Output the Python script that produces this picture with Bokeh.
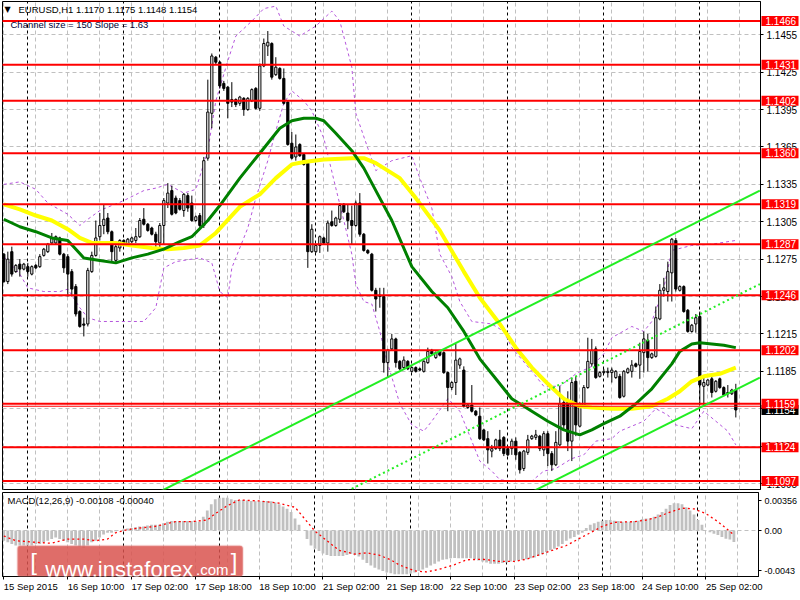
from bokeh.plotting import figure
from bokeh.models import (ColumnDataSource, FixedTicker, Grid, Label, BoxAnnotation,
                          CustomJSTickFormatter, PrintfTickFormatter, Range1d)
from bokeh.layouts import column, row
from bokeh.embed import file_html
from bokeh.resources import INLINE
from bokeh.core.properties import value

FONT = "Liberation Sans"
FS = "10px"

# ---------------- data (EURUSD H1, one value per bar) ----------------
opens = [1.1279, 1.1257, 1.1281, 1.1265, 1.1271, 1.1267, 1.1269, 1.1263, 1.1270, 1.1269,
         1.1278, 1.1281, 1.1288, 1.1288, 1.1292, 1.1279, 1.1277, 1.1265, 1.1253, 1.1233,
         1.1223, 1.1223, 1.1265, 1.1278, 1.1293, 1.1302, 1.1308, 1.1297, 1.1274, 1.1284,
         1.1290, 1.1287, 1.1289, 1.1290, 1.1293, 1.1307, 1.1303, 1.1300, 1.1295, 1.1288,
         1.1302, 1.1320, 1.1330, 1.1324, 1.1322, 1.1314, 1.1326, 1.1320, 1.1306, 1.1310,
         1.1302, 1.1356, 1.1392, 1.1437, 1.1433, 1.1416, 1.1413, 1.1403, 1.1403, 1.1400,
         1.1404, 1.1395, 1.1402, 1.1412, 1.1396, 1.1430, 1.1446, 1.1448, 1.1423, 1.1428,
         1.1420, 1.1401, 1.1368, 1.1357, 1.1367, 1.1359, 1.1352, 1.1281, 1.1281, 1.1286,
         1.1292, 1.1288, 1.1305, 1.1302, 1.1307, 1.1319, 1.1312, 1.1306, 1.1302, 1.1320,
         1.1295, 1.1282, 1.1279, 1.1250, 1.1245, 1.1245, 1.1192, 1.1203, 1.1211, 1.1193,
         1.1188, 1.1193, 1.1185, 1.1188, 1.1187, 1.1185, 1.1192, 1.1201, 1.1196, 1.1201,
         1.1200, 1.1184, 1.1172, 1.1176, 1.1190, 1.1186, 1.1156, 1.1158, 1.1153, 1.1149,
         1.1138, 1.1131, 1.1121, 1.1123, 1.1130, 1.1132, 1.1123, 1.1123, 1.1129, 1.1120,
         1.1107, 1.1120, 1.1131, 1.1132, 1.1133, 1.1122, 1.1135, 1.1119, 1.1110, 1.1126,
         1.1160, 1.1160, 1.1129, 1.1177, 1.1141, 1.1157, 1.1172, 1.1191, 1.1203, 1.1181,
         1.1184, 1.1184, 1.1184, 1.1180, 1.1181, 1.1165, 1.1184, 1.1185, 1.1191, 1.1190,
         1.1200, 1.1210, 1.1196, 1.1197, 1.1227, 1.1250, 1.1249, 1.1264, 1.1290, 1.1250,
         1.1253, 1.1234, 1.1217, 1.1223, 1.1229, 1.1173, 1.1174, 1.1179, 1.1169, 1.1179,
         1.1172, 1.1168, 1.1167, 1.1170]
highs = [1.1280, 1.1281, 1.1285, 1.1271, 1.1275, 1.1272, 1.1272, 1.1270, 1.1271, 1.1279,
         1.1284, 1.1288, 1.1296, 1.1294, 1.1293, 1.1280, 1.1279, 1.1267, 1.1255, 1.1234,
         1.1228, 1.1268, 1.1281, 1.1306, 1.1312, 1.1319, 1.1312, 1.1298, 1.1287, 1.1291,
         1.1291, 1.1292, 1.1293, 1.1300, 1.1308, 1.1316, 1.1304, 1.1301, 1.1297, 1.1304,
         1.1324, 1.1336, 1.1334, 1.1326, 1.1324, 1.1328, 1.1328, 1.1326, 1.1310, 1.1312,
         1.1357, 1.1419, 1.1440, 1.1438, 1.1434, 1.1418, 1.1414, 1.1417, 1.1404, 1.1406,
         1.1405, 1.1405, 1.1412, 1.1413, 1.1432, 1.1452, 1.1458, 1.1449, 1.1437, 1.1429,
         1.1428, 1.1402, 1.1377, 1.1375, 1.1368, 1.1360, 1.1353, 1.1303, 1.1287, 1.1294,
         1.1293, 1.1306, 1.1314, 1.1309, 1.1320, 1.1320, 1.1319, 1.1318, 1.1322, 1.1328,
         1.1296, 1.1283, 1.1280, 1.1252, 1.1252, 1.1252, 1.1203, 1.1215, 1.1212, 1.1194,
         1.1197, 1.1194, 1.1189, 1.1189, 1.1188, 1.1194, 1.1204, 1.1203, 1.1201, 1.1202,
         1.1201, 1.1185, 1.1177, 1.1207, 1.1196, 1.1189, 1.1159, 1.1174, 1.1154, 1.1156,
         1.1139, 1.1137, 1.1126, 1.1131, 1.1138, 1.1133, 1.1124, 1.1131, 1.1132, 1.1121,
         1.1122, 1.1134, 1.1134, 1.1138, 1.1134, 1.1137, 1.1137, 1.1121, 1.1137, 1.1173,
         1.1162, 1.1169, 1.1180, 1.1181, 1.1160, 1.1174, 1.1212, 1.1211, 1.1205, 1.1185,
         1.1187, 1.1188, 1.1188, 1.1186, 1.1183, 1.1186, 1.1188, 1.1194, 1.1192, 1.1208,
         1.1217, 1.1215, 1.1200, 1.1237, 1.1255, 1.1260, 1.1273, 1.1292, 1.1292, 1.1254,
         1.1254, 1.1235, 1.1223, 1.1231, 1.1233, 1.1180, 1.1179, 1.1181, 1.1178, 1.1180,
         1.1173, 1.1174, 1.1171, 1.1175]
lows = [1.1256, 1.1255, 1.1261, 1.1264, 1.1261, 1.1266, 1.1261, 1.1262, 1.1267, 1.1268,
        1.1277, 1.1280, 1.1287, 1.1287, 1.1278, 1.1264, 1.1245, 1.1245, 1.1229, 1.1220,
        1.1213, 1.1221, 1.1264, 1.1277, 1.1290, 1.1295, 1.1295, 1.1273, 1.1272, 1.1281,
        1.1286, 1.1286, 1.1288, 1.1288, 1.1292, 1.1302, 1.1297, 1.1294, 1.1283, 1.1283,
        1.1287, 1.1316, 1.1310, 1.1311, 1.1314, 1.1309, 1.1313, 1.1305, 1.1305, 1.1300,
        1.1300, 1.1354, 1.1380, 1.1431, 1.1412, 1.1410, 1.1388, 1.1397, 1.1397, 1.1398,
        1.1390, 1.1394, 1.1401, 1.1395, 1.1394, 1.1429, 1.1438, 1.1419, 1.1422, 1.1419,
        1.1399, 1.1366, 1.1355, 1.1354, 1.1357, 1.1350, 1.1268, 1.1280, 1.1280, 1.1280,
        1.1287, 1.1281, 1.1301, 1.1301, 1.1304, 1.1312, 1.1299, 1.1287, 1.1301, 1.1293,
        1.1281, 1.1279, 1.1249, 1.1233, 1.1236, 1.1184, 1.1180, 1.1202, 1.1188, 1.1186,
        1.1187, 1.1186, 1.1184, 1.1184, 1.1185, 1.1184, 1.1191, 1.1198, 1.1195, 1.1197,
        1.1183, 1.1153, 1.1170, 1.1166, 1.1187, 1.1156, 1.1155, 1.1152, 1.1149, 1.1130,
        1.1129, 1.1111, 1.1116, 1.1122, 1.1121, 1.1117, 1.1117, 1.1118, 1.1114, 1.1103,
        1.1105, 1.1118, 1.1130, 1.1130, 1.1121, 1.1117, 1.1109, 1.1105, 1.1109, 1.1125,
        1.1138, 1.1121, 1.1113, 1.1133, 1.1140, 1.1156, 1.1171, 1.1189, 1.1179, 1.1180,
        1.1183, 1.1180, 1.1176, 1.1179, 1.1163, 1.1164, 1.1183, 1.1180, 1.1188, 1.1179,
        1.1184, 1.1185, 1.1195, 1.1196, 1.1226, 1.1245, 1.1241, 1.1241, 1.1249, 1.1249,
        1.1232, 1.1216, 1.1216, 1.1216, 1.1158, 1.1157, 1.1173, 1.1164, 1.1168, 1.1171,
        1.1165, 1.1164, 1.1166, 1.1148]
closes = [1.1257, 1.1275, 1.1263, 1.1270, 1.1267, 1.1271, 1.1265, 1.1269, 1.1268, 1.1277,
          1.1283, 1.1287, 1.1292, 1.1293, 1.1279, 1.1268, 1.1263, 1.1251, 1.1231, 1.1221,
          1.1222, 1.1266, 1.1278, 1.1292, 1.1302, 1.1307, 1.1297, 1.1281, 1.1285, 1.1290,
          1.1287, 1.1291, 1.1292, 1.1293, 1.1306, 1.1303, 1.1298, 1.1295, 1.1289, 1.1302,
          1.1322, 1.1328, 1.1311, 1.1312, 1.1315, 1.1327, 1.1316, 1.1306, 1.1309, 1.1302,
          1.1354, 1.1393, 1.1438, 1.1433, 1.1414, 1.1412, 1.1400, 1.1401, 1.1399, 1.1405,
          1.1395, 1.1404, 1.1411, 1.1396, 1.1430, 1.1448, 1.1449, 1.1421, 1.1429, 1.1420,
          1.1400, 1.1367, 1.1356, 1.1365, 1.1358, 1.1351, 1.1281, 1.1299, 1.1286, 1.1293,
          1.1288, 1.1304, 1.1302, 1.1308, 1.1318, 1.1313, 1.1306, 1.1302, 1.1320, 1.1295,
          1.1282, 1.1280, 1.1250, 1.1243, 1.1246, 1.1192, 1.1202, 1.1211, 1.1192, 1.1187,
          1.1194, 1.1187, 1.1188, 1.1185, 1.1186, 1.1193, 1.1201, 1.1199, 1.1200, 1.1198,
          1.1184, 1.1172, 1.1176, 1.1194, 1.1195, 1.1157, 1.1158, 1.1153, 1.1150, 1.1131,
          1.1130, 1.1122, 1.1123, 1.1130, 1.1123, 1.1119, 1.1118, 1.1129, 1.1118, 1.1106,
          1.1121, 1.1130, 1.1133, 1.1134, 1.1123, 1.1135, 1.1119, 1.1110, 1.1128, 1.1159,
          1.1142, 1.1129, 1.1176, 1.1142, 1.1159, 1.1172, 1.1193, 1.1202, 1.1180, 1.1184,
          1.1185, 1.1185, 1.1186, 1.1185, 1.1164, 1.1185, 1.1187, 1.1190, 1.1189, 1.1201,
          1.1211, 1.1196, 1.1199, 1.1228, 1.1250, 1.1252, 1.1265, 1.1291, 1.1251, 1.1253,
          1.1233, 1.1217, 1.1222, 1.1228, 1.1174, 1.1176, 1.1178, 1.1168, 1.1177, 1.1172,
          1.1166, 1.1167, 1.1170, 1.1154]

# moving averages (bar index, price)
ma_fast_idx = [0, 4, 8, 12, 16, 20, 24, 28, 32, 36, 40, 44, 47, 51, 54, 59, 64, 69, 72, 75,
               78, 80, 83, 87, 90, 93, 97, 102, 107, 111, 115, 119, 123, 127, 131, 136, 140, 144, 147, 150,
               154, 158, 162, 167, 169, 172, 174, 177, 180, 183]
ma_fast_val = [1.1307, 1.1301, 1.1297, 1.1292, 1.1290, 1.1276, 1.1274, 1.1272, 1.1276, 1.1279,
               1.1283, 1.1289, 1.1293, 1.1306, 1.1318, 1.1340, 1.1360, 1.1380, 1.1386, 1.1388,
               1.1388, 1.1386, 1.1376, 1.1362, 1.1348, 1.1330, 1.1306, 1.1269, 1.1249, 1.1236,
               1.1217, 1.1195, 1.1179, 1.1163, 1.1155, 1.1145, 1.1138, 1.1134, 1.1138, 1.1143,
               1.1149, 1.1159, 1.1171, 1.1191, 1.1201, 1.1207, 1.1208, 1.1207, 1.1206, 1.1204]
ma_slow_idx = [0, 4, 8, 12, 16, 19, 22, 28, 32, 37, 41, 45, 49, 53, 59, 64, 68, 72, 75, 80,
               87, 90, 93, 97, 99, 103, 109, 115, 119, 124, 128, 132, 136, 140, 144, 147, 152, 157, 162, 166,
               169, 172, 175, 179, 183]
ma_slow_val = [1.1319, 1.1315, 1.1310, 1.1306, 1.1299, 1.1292, 1.1288, 1.1288, 1.1286, 1.1284,
               1.1283, 1.1284, 1.1286, 1.1296, 1.1317, 1.1327, 1.1340, 1.1351, 1.1353, 1.1355,
               1.1356, 1.1356, 1.1352, 1.1344, 1.1340, 1.1324, 1.1298, 1.1265, 1.1244, 1.1223,
               1.1204, 1.1188, 1.1175, 1.1163, 1.1157, 1.1156, 1.1155, 1.1155, 1.1157, 1.1163,
               1.1169, 1.1177, 1.1181, 1.1183, 1.1188]

# band lines (dashed violet)
band_up_idx = [0, 4, 8, 11, 16, 19, 21, 24, 30, 35, 38, 41, 45, 48, 51, 53, 56, 58, 62, 65,
               68, 70, 74, 78, 82, 84, 87, 88, 91, 93, 97, 102, 104, 107, 109, 112, 114, 117, 122, 125,
               127, 132, 135, 139, 143, 147, 150, 152, 157, 160, 162, 165, 167, 172, 177, 183]
band_up_val = [1.1335, 1.1337, 1.1331, 1.1320, 1.1311, 1.1302, 1.1307, 1.1314, 1.1322, 1.1330,
               1.1332, 1.1335, 1.1328, 1.1331, 1.1362, 1.1402, 1.1434, 1.1454, 1.1466, 1.1476,
               1.1478, 1.1462, 1.1454, 1.1462, 1.1474, 1.1466, 1.1429, 1.1392, 1.1364, 1.1346,
               1.1354, 1.1358, 1.1340, 1.1316, 1.1279, 1.1261, 1.1241, 1.1225, 1.1223, 1.1217,
               1.1204, 1.1185, 1.1173, 1.1173, 1.1183, 1.1189, 1.1199, 1.1212, 1.1221, 1.1217,
               1.1225, 1.1252, 1.1282, 1.1286, 1.1287, 1.1290]
band_dn_idx = [0, 4, 6, 10, 14, 16, 19, 21, 24, 35, 38, 40, 43, 49, 52, 54, 56, 57, 61, 63,
               66, 68, 70, 72, 75, 77, 80, 83, 85, 87, 88, 90, 92, 94, 96, 99, 102, 105, 107, 111,
               114, 117, 119, 122, 124, 127, 132, 135, 138, 142, 145, 148, 152, 154, 160, 163, 166, 168, 172, 175,
               178, 181, 183]
band_dn_val = [1.1277, 1.1263, 1.1252, 1.1249, 1.1249, 1.1251, 1.1236, 1.1228, 1.1225, 1.1225,
               1.1236, 1.1268, 1.1273, 1.1276, 1.1272, 1.1249, 1.1244, 1.1268, 1.1300, 1.1324,
               1.1354, 1.1378, 1.1400, 1.1410, 1.1402, 1.1394, 1.1372, 1.1332, 1.1306, 1.1279,
               1.1255, 1.1241, 1.1239, 1.1217, 1.1191, 1.1159, 1.1142, 1.1137, 1.1145, 1.1163,
               1.1153, 1.1129, 1.1113, 1.1105, 1.1098, 1.1097, 1.1097, 1.1105, 1.1107, 1.1115,
               1.1118, 1.1129, 1.1131, 1.1137, 1.1145, 1.1155, 1.1150, 1.1142, 1.1139, 1.1153,
               1.1145, 1.1137, 1.1126]

# regression channel end points
chan_idx = [30, 189]
chan_up = [1.1074, 1.1330]
chan_mid = [1.0999, 1.1255]
chan_dn = [1.0924, 1.1180]

# horizontal levels
levels = [1.1466, 1.1431, 1.1402, 1.1360, 1.1319, 1.1287, 1.1246, 1.1202, 1.1159, 1.1124, 1.1097]
level_extra = [1.1157]

# MACD(12,26,9)
macd_hist = [-0.00095, -0.0011, -0.00125, -0.0014, -0.0014, -0.0014, -0.0014, -0.0014, -0.00125, -0.00125,
             -0.0011, -0.00095, -0.0008, -0.00066, -0.0008, -0.00095, -0.0011, -0.00125, -0.0014, -0.00155,
             -0.00161, -0.0014, -0.0011, -0.00095, -0.00066, -0.00036, -0.00021, -0.00021, -0.00006, 0.0,
             0.00009, 0.00018, 0.00024, 0.0003, 0.00039, 0.00039, 0.00048, 0.00054, 0.00054, 0.00054,
             0.00069, 0.00083, 0.00089, 0.00089, 0.00089, 0.00089, 0.00089, 0.00089, 0.00089, 0.00083,
             0.00128, 0.00188, 0.00247, 0.00292, 0.00307, 0.00307, 0.00307, 0.00292, 0.00286, 0.00286,
             0.00286, 0.0028, 0.00277, 0.00274, 0.00274, 0.00277, 0.00277, 0.00274, 0.00262, 0.00247,
             0.00226, 0.00203, 0.00173, 0.00113, 0.00054, 0.0, -0.0008, -0.0014, -0.0017, -0.00191,
             -0.00215, -0.00229, -0.00238, -0.00238, -0.00238, -0.00238, -0.00229, -0.0022, -0.00229, -0.00244,
             -0.00274, -0.00304, -0.00328, -0.00349, -0.00364, -0.00378, -0.00393, -0.00399, -0.00408, -0.00408,
             -0.00408, -0.00408, -0.00402, -0.00393, -0.00378, -0.00364, -0.00349, -0.00328, -0.0031, -0.00289,
             -0.00274, -0.00268, -0.00259, -0.00256, -0.00259, -0.00259, -0.00259, -0.00259, -0.00268, -0.0028,
             -0.00289, -0.00298, -0.0031, -0.0031, -0.0031, -0.00304, -0.00298, -0.00289, -0.00283, -0.0028,
             -0.00274, -0.00268, -0.00259, -0.00253, -0.00238, -0.00221, -0.002, -0.00185, -0.0017, -0.00149,
             -0.00125, -0.00095, -0.00075, -0.0006, -0.00036, -0.00021, 0.00024, 0.00054, 0.00069, 0.00083,
             0.00092, 0.00098, 0.00098, 0.00092, 0.00089, 0.00083, 0.00083, 0.00083, 0.00089, 0.00092,
             0.00107, 0.00113, 0.00113, 0.00128, 0.00149, 0.00173, 0.00203, 0.00238, 0.00256, 0.00256,
             0.00247, 0.00218, 0.00188, 0.00149, 0.00098, 0.00054, 0.0, -0.00015, -0.0003, -0.00042,
             -0.0006, -0.00077, -0.00083, -0.00108]
signal_idx = [0, 3, 8, 12, 16, 20, 23, 26, 28, 31, 34, 38, 43, 47, 51, 53, 56, 59, 64, 69,
              73, 76, 78, 82, 84, 88, 91, 94, 97, 99, 103, 106, 109, 113, 116, 120, 124, 128, 131, 134,
              138, 141, 144, 147, 150, 153, 158, 161, 164, 167, 170, 173, 176, 179, 183]
signal_val = [-0.00051, -0.00095, -0.0011, -0.00119, -0.0008, -0.0008, -0.00095, -0.0008, -0.00021, 0.00009,
              0.00024, 0.00039, 0.00083, 0.00083, 0.00098, 0.00158, 0.00232, 0.00286, 0.00277, 0.00256,
              0.00218, 0.00083, -0.00006, -0.00125, -0.00185, -0.0022, -0.00209, -0.00229, -0.00274, -0.00319,
              -0.00378, -0.00387, -0.00364, -0.00319, -0.00274, -0.00268, -0.00289, -0.00289, -0.00268, -0.00229,
              -0.00179, -0.0014, -0.0008, -0.00021, 0.00039, 0.00077, 0.00083, 0.00098, 0.00128, 0.00173,
              0.00209, 0.00203, 0.00158, 0.00083, -0.0004]

# axes
price_ticks = [1.1455, 1.1425, 1.1395, 1.1365, 1.1335, 1.1305, 1.1275, 1.1245, 1.1215,
               1.1185, 1.1155, 1.1125, 1.1095]
time_ticks = [0, 16, 32, 48, 64, 80, 96, 112, 128, 144, 160, 176]
time_labels = ["15 Sep 2015", "16 Sep 10:00", "17 Sep 02:00", "17 Sep 18:00", "18 Sep 10:00",
               "21 Sep 02:00", "21 Sep 18:00", "22 Sep 10:00", "23 Sep 02:00", "23 Sep 18:00",
               "24 Sep 10:00", "25 Sep 02:00"]
day_breaks = [6, 30, 54, 78, 102, 126, 150, 174]
macd_ticks = [0.00277, 0.0, -0.00377]
macd_tick_labels = ["0.00356", "0.00", "-0.0043"]

# ---------------- main price panel ----------------
n = len(closes)
bars = list(range(n))
src = ColumnDataSource(dict(
    x=bars, high=highs, low=lows,
    top=[max(o, c) for o, c in zip(opens, closes)],
    bottom=[min(o, c) for o, c in zip(opens, closes)],
    color=["white" if c >= o else "black" for o, c in zip(opens, closes)],
))

GRID = "#c0c0c0"
x_range = Range1d(-0.33, 189.17)
y_range = Range1d(1.10902, 1.14817)

p = figure(width=800, height=490, x_range=x_range, y_range=y_range,
           output_backend="svg", toolbar_location=None, x_axis_location=None,
           y_axis_location="right", min_border_left=2, min_border_right=40,
           min_border_top=1, min_border_bottom=1, outline_line_color="black",
           background_fill_color="white", border_fill_color="white")
p.grid.visible = False
grid_bars = list(range(0, 190, 8))
p.add_layout(Grid(dimension=0, ticker=FixedTicker(ticks=grid_bars),
                  grid_line_color=GRID, grid_line_dash="4 3"))
p.add_layout(Grid(dimension=1, ticker=FixedTicker(ticks=price_ticks),
                  grid_line_color=GRID, grid_line_dash="4 3"))
p.add_layout(Grid(dimension=0, ticker=FixedTicker(ticks=day_breaks),
                  grid_line_color="black", grid_line_dash="3 3"))

ya = p.yaxis[0]
ya.ticker = FixedTicker(ticks=price_ticks)
ya.formatter = PrintfTickFormatter(format="%.4f")
ya.major_label_text_font = FONT
ya.major_label_text_font_size = FS
ya.major_label_text_color = "black"
ya.major_tick_out = 3
ya.major_tick_in = 0
ya.minor_tick_out = 0
ya.minor_tick_in = 0
ya.major_label_standoff = 3
ya.axis_line_color = "black"

VIOLET = "#b455dc"
p.line(band_up_idx, band_up_val, line_color=VIOLET, line_width=1, line_dash="3 3")
p.line(band_dn_idx, band_dn_val, line_color=VIOLET, line_width=1, line_dash="3 3")

p.segment(x0="x", y0="low", x1="x", y1="high", source=src, line_color="black", line_width=1)
p.vbar(x="x", top="top", bottom="bottom", width=0.55, source=src,
       fill_color="color", line_color="black", line_width=1)

p.line(ma_slow_idx, ma_slow_val, line_color="#ffff00", line_width=4)
p.line(ma_fast_idx, ma_fast_val, line_color="#008000", line_width=3)

p.segment(x0=-5, y0=levels, x1=200, y1=levels, line_color="#ff0000", line_width=2)
p.segment(x0=-5, y0=level_extra, x1=200, y1=level_extra, line_color="#ff0000", line_width=1)

LIME = "#22ee22"
p.line(chan_idx, chan_up, line_color=LIME, line_width=2)
p.line(chan_idx, chan_dn, line_color=LIME, line_width=2)
p.line(chan_idx, chan_mid, line_color=LIME, line_width=2, line_dash="2 3")

# headers
p.add_layout(Label(x=0.2, y=1.14753, text="\u25bc", text_font="DejaVu Sans", text_font_size="8px",
                   text_color="black", text_baseline="middle", text_align="left"))
p.add_layout(Label(x=3.67, y=1.14753,
                   text=f"EURUSD,H1  {opens[-1]:.4f} {highs[-1]:.4f} {lows[-1]:.4f} {closes[-1]:.4f}",
                   text_font=FONT, text_font_size="9.5px", text_color="black",
                   text_baseline="middle", text_align="left"))
p.add_layout(Label(x=1.67, y=1.14632, text="Channel size = 150 Slope = 1.63",
                   text_font=FONT, text_font_size="9.5px", text_color="#000033",
                   text_baseline="middle", text_align="left"))

# ---------------- price tags, overlaid on the right scale ----------------
TAG_H = 0.00040
tags = figure(width=40, height=490, x_range=Range1d(0, 40), y_range=y_range,
              output_backend="svg", toolbar_location=None, x_axis_location=None,
              y_axis_location=None, min_border_left=0, min_border_right=0,
              min_border_top=1, min_border_bottom=1, outline_line_color=None,
              background_fill_alpha=0, border_fill_alpha=0, margin=(0, 0, 0, -40))
tags.grid.visible = False
last = closes[-1]
tags.quad(left=1, right=38, top=[last + TAG_H], bottom=[last - TAG_H],
          fill_color="black", line_color=None)
tags.text(x=5, y=[last], text=[f"{last:.4f}"], text_color="white", text_font=value(FONT),
          text_font_size=FS, text_baseline="middle", text_align="left")
tags.quad(left=1, right=38, top=[lv + TAG_H for lv in levels],
          bottom=[lv - TAG_H for lv in levels], fill_color="#ff0000", line_color=None)
tags.text(x=5, y=levels, text=[f"{lv:.4f}" for lv in levels], text_color="white",
          text_font=value(FONT), text_font_size=FS, text_baseline="middle",
          text_align="left")

# ---------------- MACD ----------------
q = figure(width=800, height=110, x_range=x_range, y_range=Range1d(-0.0043, 0.00356),
           output_backend="svg", toolbar_location=None, y_axis_location="right",
           x_axis_location="below", min_border_left=2, min_border_right=40,
           min_border_top=2, min_border_bottom=18, outline_line_color="black",
           background_fill_color="white", border_fill_color="white")
q.grid.visible = False
q.add_layout(Grid(dimension=0, ticker=FixedTicker(ticks=grid_bars),
                  grid_line_color=GRID, grid_line_dash="4 3"))
q.add_layout(Grid(dimension=0, ticker=FixedTicker(ticks=day_breaks),
                  grid_line_color="black", grid_line_dash="3 3"))
q.add_layout(Grid(dimension=1, ticker=FixedTicker(ticks=[0.0]),
                  grid_line_color=GRID, grid_line_dash="4 3"))

q.vbar(x=bars, top=macd_hist, bottom=0, width=0.7, fill_color="#c0c0c0", line_color=None)
q.line(signal_idx, signal_val, line_color="#ff0000", line_width=1.3, line_dash="2 3")

xa = q.xaxis[0]
xa.ticker = FixedTicker(ticks=time_ticks)
xa.major_label_overrides = {t: s for t, s in zip(time_ticks, time_labels)}
xa.major_label_orientation = -0.0001
xa.major_label_text_font = FONT
xa.major_label_text_font_size = "9.5px"
xa.major_label_text_color = "black"
xa.major_tick_out = 3
xa.major_tick_in = 0
xa.minor_tick_out = 0
xa.minor_tick_in = 0
xa.major_label_standoff = 7
xa.axis_line_color = "black"

qa = q.yaxis[0]
qa.ticker = FixedTicker(ticks=macd_ticks)
qa.formatter = CustomJSTickFormatter(
    args=dict(vals=macd_ticks, labels=macd_tick_labels),
    code="""
    for (let i = 0; i < vals.length; i++) {
        if (Math.abs(vals[i] - tick) < 1e-7) { return labels[i]; }
    }
    return "";
    """)
qa.major_label_text_font = FONT
qa.major_label_text_font_size = "9px"
qa.major_label_text_color = "black"
qa.major_tick_out = 3
qa.major_tick_in = 0
qa.minor_tick_out = 0
qa.minor_tick_in = 0
qa.major_label_standoff = 3
qa.axis_line_color = "black"

q.add_layout(Label(x=0.92, y=0.00277,
                   text=f"MACD(12,26,9) {macd_hist[-1]:.5f} {signal_val[-1]:.5f}",
                   text_font=FONT, text_font_size="9.5px", text_color="black",
                   text_baseline="middle", text_align="left"))

# watermark
q.add_layout(BoxAnnotation(left=3.42, right=59.92, top=-0.00142, bottom=-0.0043,
                           fill_color="#d9534f", fill_alpha=0.85,
                           line_color="#eaa0a0", line_width=2, border_radius=3))
WM_Y = -0.00290
q.add_layout(Label(x=6.6, y=WM_Y, text="[", text_font="Liberation Sans", text_font_size="24px",
                   text_color="white", text_baseline="middle", text_align="left"))
q.add_layout(Label(x=10.4, y=-0.00360, text="www.instaforex", text_font="Liberation Sans",
                   text_font_size="22px", text_color="white", text_baseline="alphabetic",
                   text_align="left"))
q.add_layout(Label(x=48.2, y=-0.00360, text=".com", text_font="Liberation Sans",
                   text_font_size="15px", text_color="white", text_baseline="alphabetic",
                   text_align="left"))
q.add_layout(Label(x=56.9, y=WM_Y, text="]", text_font="Liberation Sans", text_font_size="24px",
                   text_color="white", text_baseline="middle", text_align="left"))

layout = column(row(p, tags), q)
open("out.html", "w").write(file_html(layout, INLINE))
